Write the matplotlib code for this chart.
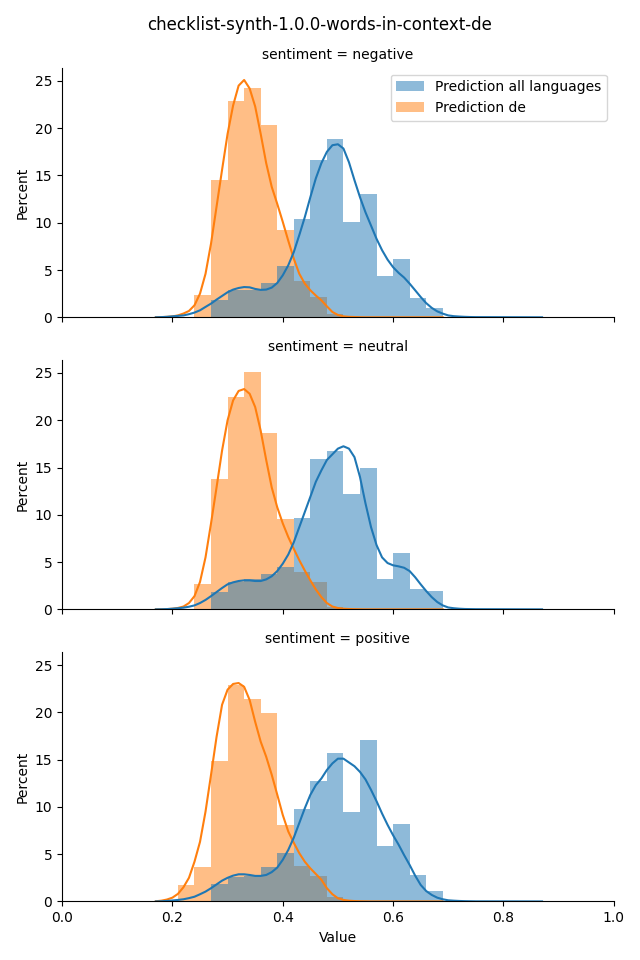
import numpy as np
import matplotlib.pyplot as plt

panels = ['negative', 'neutral', 'positive']
bin_edges = np.round(np.arange(0.21, 0.70, 0.03), 2)

# bar heights (percent), one value per bin
all_bars = {
    'negative': [0, 0, 1.8, 2.85, 2.85, 3.65, 5.4, 10.4, 16.6, 18.9, 10.1, 13.0, 4.35, 6.2, 2.0, 1.0],
    'neutral':  [0, 0, 1.8, 2.85, 3.25, 3.75, 4.45, 9.7, 15.9, 16.7, 12.2, 15.0, 3.2, 6.0, 2.2, 1.9],
    'positive': [0, 0, 1.85, 2.6, 2.65, 3.65, 5.1, 9.8, 12.7, 15.7, 9.5, 17.1, 5.9, 8.2, 2.8, 1.1],
}
de_bars = {
    'negative': [0, 2.33, 14.5, 22.85, 24.2, 20.3, 9.2, 3.8, 2.2, 0.3, 0, 0, 0, 0, 0, 0],
    'neutral':  [0, 2.65, 13.75, 22.5, 25.1, 18.7, 9.6, 4.0, 2.9, 0.25, 0, 0, 0, 0, 0, 0],
    'positive': [1.75, 3.6, 14.8, 22.9, 21.4, 19.9, 8.1, 3.8, 2.7, 0.5, 0, 0, 0, 0, 0, 0],
}

# kde curves, at 0.17, 0.18, ... 0.75 and then 0.87
kde_x = np.append(np.round(np.arange(0.17, 0.755, 0.01), 2), 0.87)

all_kde = {
    'negative': [0, 0.02, 0.05, 0.1, 0.15, 0.2, 0.33, 0.5, 0.74, 1.1,
                 1.45, 1.87, 2.26, 2.65, 2.93, 3.1, 3.2, 3.17, 3.0, 2.9,
                 2.93, 3.14, 3.63, 4.44, 5.5, 6.9, 8.7, 10.6, 12.7, 14.7,
                 16.3, 17.5, 18.2, 18.3, 17.85, 16.4, 14.5, 12.7, 11.1, 9.7,
                 8.3, 7.1, 6.1, 5.3, 4.7, 4.2, 3.56, 2.86, 2.15, 1.5,
                 1.0, 0.63, 0.39, 0.2, 0.12, 0.08, 0.05, 0.03, 0.02, 0],
    'neutral':  [0, 0.01, 0.03, 0.07, 0.12, 0.18, 0.28, 0.42, 0.67, 1.0,
                 1.4, 1.83, 2.26, 2.65, 2.86, 3.0, 3.07, 3.07, 3.0, 3.0,
                 3.17, 3.5, 4.05, 4.83, 5.8, 7.1, 8.7, 10.3, 11.9, 13.5,
                 14.7, 15.8, 16.4, 17.0, 17.25, 17.0, 16.1, 14.0, 11.2, 8.7,
                 6.8, 5.5, 4.9, 4.66, 4.55, 4.4, 4.05, 3.4, 2.65, 1.94,
                 1.3, 0.78, 0.42, 0.2, 0.12, 0.07, 0.04, 0.03, 0.02, 0],
    'positive': [0, 0.02, 0.05, 0.1, 0.16, 0.23, 0.35, 0.5, 0.76, 1.04,
                 1.4, 1.8, 2.2, 2.5, 2.73, 2.87, 2.87, 2.8, 2.7, 2.7,
                 2.8, 3.1, 3.58, 4.4, 5.45, 6.75, 8.3, 9.86, 11.27, 12.3,
                 13.0, 13.9, 14.6, 15.1, 15.1, 14.7, 14.3, 13.7, 12.9, 11.8,
                 10.6, 9.3, 8.1, 7.0, 6.0, 4.9, 3.86, 2.73, 1.75, 1.1,
                 0.69, 0.4, 0.23, 0.12, 0.08, 0.05, 0.03, 0.02, 0.01, 0],
}
de_kde = {
    'negative': [0, 0.02, 0.05, 0.1, 0.2, 0.4, 0.67, 1.27, 2.5, 4.6,
                 7.8, 11.7, 15.6, 19.4, 22.4, 24.5, 25.1, 24.2, 22.3, 19.4,
                 16.3, 13.8, 12.0, 10.1, 8.1, 6.2, 4.6, 3.56, 2.86, 2.3,
                 1.8, 1.16, 0.56, 0.25, 0.1, 0.05, 0.03, 0.01, 0, 0,
                 0, 0, 0, 0, 0, 0, 0, 0, 0, 0,
                 0, 0, 0, 0, 0, 0, 0, 0, 0, 0],
    'neutral':  [0, 0.01, 0.03, 0.07, 0.15, 0.3, 0.67, 1.4, 2.9, 5.5,
                 9.1, 12.9, 16.8, 20.0, 22.1, 23.1, 23.3, 22.8, 21.4, 18.9,
                 15.8, 12.9, 10.8, 9.1, 7.65, 6.4, 5.2, 4.1, 3.07, 2.1,
                 1.3, 0.67, 0.3, 0.14, 0.07, 0.04, 0.02, 0.01, 0, 0,
                 0, 0, 0, 0, 0, 0, 0, 0, 0, 0,
                 0, 0, 0, 0, 0, 0, 0, 0, 0, 0],
    'positive': [0.02, 0.08, 0.2, 0.4, 0.8, 1.5, 2.5, 4.2, 6.3, 9.5,
                 13.4, 17.4, 20.8, 22.4, 23.0, 23.1, 22.7, 21.3, 19.0, 16.9,
                 15.3, 13.4, 11.3, 9.15, 7.4, 6.2, 5.1, 4.2, 3.5, 2.9,
                 2.3, 1.4, 0.76, 0.34, 0.16, 0.08, 0.04, 0.02, 0.01, 0,
                 0, 0, 0, 0, 0, 0, 0, 0, 0, 0,
                 0, 0, 0, 0, 0, 0, 0, 0, 0, 0],
}

blue = '#1f77b4'
orange = '#ff7f0e'

fig, axes = plt.subplots(3, 1, figsize=(6.4, 9.6), dpi=100, sharex=True, sharey=True)
fig.subplots_adjust(left=0.097, right=0.959, top=0.9295, bottom=0.061, hspace=0.17)

widths = np.diff(bin_edges)
de_mask = kde_x <= 0.69

for ax, name in zip(axes, panels):
    ax.bar(bin_edges[:-1], de_bars[name], width=widths, align='edge',
           color=orange, alpha=0.5, linewidth=0, label='Prediction de')
    ax.bar(bin_edges[:-1], all_bars[name], width=widths, align='edge',
           color=blue, alpha=0.5, linewidth=0, label='Prediction all languages')
    ax.plot(kde_x[de_mask], np.array(de_kde[name])[de_mask], color=orange, linewidth=1.5)
    ax.plot(kde_x, all_kde[name], color=blue, linewidth=1.5)

    ax.set_title('sentiment = ' + name, fontsize=10)
    ax.set_ylabel('Percent')
    ax.spines['top'].set_visible(False)
    ax.spines['right'].set_visible(False)

axes[0].set_xlim(0, 1)
axes[0].set_ylim(0, 26.4)
axes[0].set_yticks([0, 5, 10, 15, 20, 25])
axes[2].set_xlabel('Value')

handles, labels = axes[0].get_legend_handles_labels()
axes[0].legend(handles[::-1], labels[::-1], loc='upper right')

fig.suptitle('checklist-synth-1.0.0-words-in-context-de', fontsize=12, y=0.983)

plt.savefig('out.png')
